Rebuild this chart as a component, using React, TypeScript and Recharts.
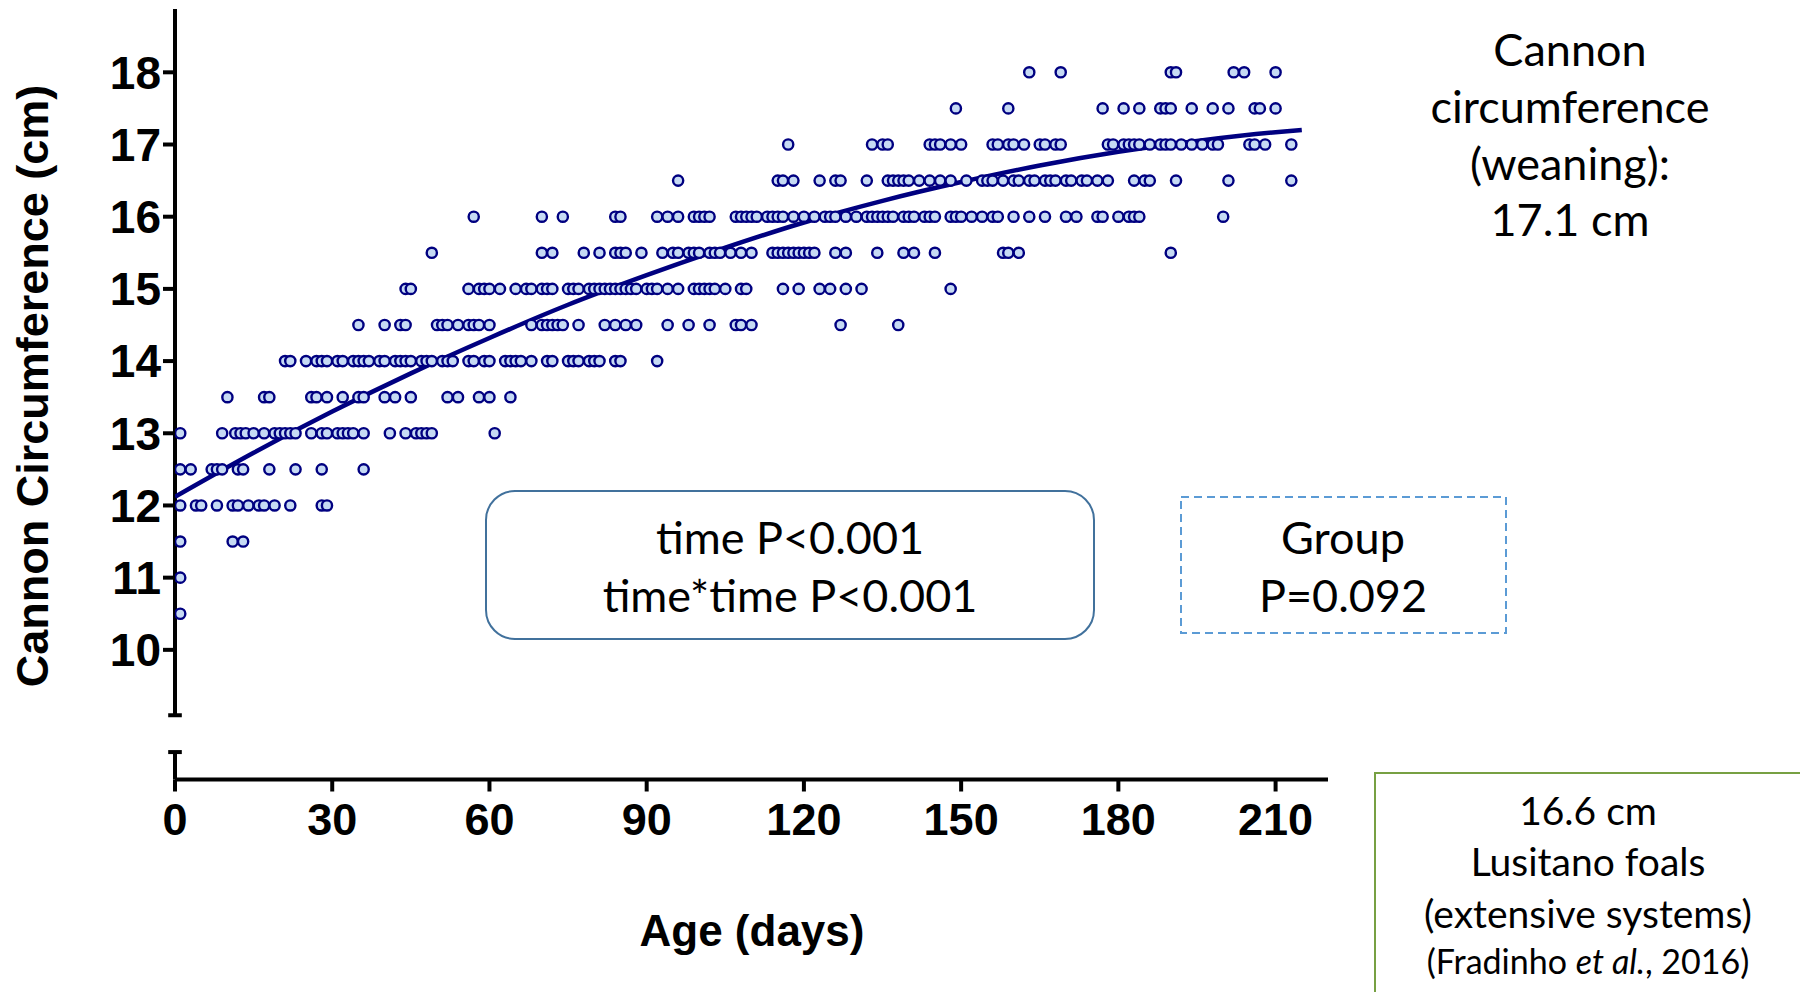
import { ComposedChart, Line, ReferenceLine, Scatter, XAxis, YAxis } from "recharts";

// cannon circumference rows (cm) and the ages (days) of the foals measured at that value
const cm18 = [163, 169, 190, 191, 202, 204, 210];
const cm17_5 = [149, 159, 177, 181, 184, 188, 189, 190, 194, 198, 201, 206, 207, 210];
const cm17 = [117, 133, 135, 136, 144, 145, 146, 148, 150, 156, 157, 159, 160, 162, 165, 166, 168, 169, 178, 179, 181, 182, 183, 184, 186, 188, 189, 190, 192, 194, 196, 198, 199, 205, 206, 208, 213];
const cm16_5 = [96, 115, 116, 118, 123, 126, 127, 132, 136, 137, 138, 139, 140, 142, 144, 146, 148, 151, 154, 155, 156, 158, 160, 161, 163, 164, 166, 167, 168, 170, 171, 173, 174, 176, 178, 183, 185, 186, 191, 201, 213];
const cm16 = [57, 70, 74, 84, 85, 92, 94, 96, 99, 100, 101, 102, 107, 108, 109, 110, 111, 113, 114, 115, 116, 118, 120, 122, 124, 125, 126, 128, 130, 132, 133, 134, 135, 136, 137, 139, 140, 141, 143, 144, 145, 148, 149, 150, 152, 154, 156, 157, 160, 163, 166, 170, 172, 176, 177, 180, 182, 183, 184, 200];
const cm15_5 = [49, 70, 72, 78, 81, 84, 85, 86, 89, 93, 95, 96, 98, 99, 100, 102, 103, 104, 106, 108, 110, 114, 115, 116, 117, 118, 119, 120, 121, 122, 126, 128, 134, 139, 141, 145, 158, 159, 161, 190];
const cm15 = [44, 45, 56, 58, 59, 60, 62, 65, 67, 68, 70, 71, 72, 75, 76, 77, 79, 80, 81, 82, 83, 84, 85, 86, 87, 88, 90, 91, 92, 94, 96, 99, 100, 101, 102, 103, 105, 108, 109, 116, 119, 123, 125, 128, 131, 148];
const cm14_5 = [35, 40, 43, 44, 50, 51, 52, 54, 56, 57, 58, 60, 68, 70, 71, 72, 73, 74, 77, 82, 84, 86, 88, 94, 98, 102, 107, 108, 110, 127, 138];
const cm14 = [21, 22, 25, 27, 28, 29, 31, 32, 34, 35, 36, 37, 39, 40, 42, 43, 44, 45, 47, 48, 49, 51, 52, 53, 56, 57, 59, 60, 63, 64, 65, 66, 68, 71, 72, 75, 76, 77, 79, 80, 81, 84, 85, 92];
const cm13_5 = [10, 17, 18, 26, 27, 29, 32, 35, 36, 40, 42, 45, 52, 54, 58, 60, 64];
const cm13 = [1, 9, 11.5, 12.5, 13.5, 15, 17, 19, 20, 21, 22, 23, 26, 28, 29, 31, 32, 33, 34, 36, 41, 44, 46, 47, 48, 49, 61];
const cm12_5 = [1, 3, 7, 8, 9, 12, 13, 18, 23, 28, 36];
const cm12 = [1, 4, 5, 8, 11, 12, 14, 16, 17, 19, 22, 28, 29];
const cm11_5 = [1, 11, 13];
const cm11 = [1];
const cm10_5 = [1];

const rowValues = [18, 17.5, 17, 16.5, 16, 15.5, 15, 14.5, 14, 13.5, 13, 12.5, 12, 11.5, 11, 10.5];
const rowAges = [cm18, cm17_5, cm17, cm16_5, cm16, cm15_5, cm15, cm14_5, cm14, cm13_5, cm13, cm12_5, cm12, cm11_5, cm11, cm10_5];

// quadratic trend (time, time*time)
const fitAges = [0, 15, 30, 45, 60, 75, 90, 105, 120, 135, 150, 165, 180, 195, 210, 215];
const fitCm = [12.12, 12.73, 13.3, 13.83, 14.32, 14.78, 15.19, 15.57, 15.92, 16.22, 16.48, 16.71, 16.9, 17.05, 17.17, 17.2];

const xTicks = [0, 30, 60, 90, 120, 150, 180, 210];
const yTicks = [10, 11, 12, 13, 14, 15, 16, 17, 18];

const points = rowValues.flatMap((v, i) => rowAges[i].map((age) => ({ x: age, y: v })));
const fitData = fitAges.map((age, i) => ({ x: age, y: fitCm[i] }));

const NAVY = "#000080";
const AXIS_FONT = "'Liberation Sans', Arial, sans-serif";
const NOTE_FONT = "Lato, 'Open Sans', sans-serif";

const Dot = (props: any) => {
  const { cx, cy } = props;
  if (cx == null || cy == null) return null;
  return <circle cx={cx} cy={cy} r={5.1} fill="#C6DAF4" stroke={NAVY} strokeWidth={2.4} />;
};

const axisStroke = { stroke: "#000", strokeWidth: 4 };

export default function App() {
  return (
    <div
      style={{
        background: "#fff",
        height: 992,
        left: 0,
        overflow: "hidden",
        position: "absolute",
        top: 0,
        width: 1800
      }}
    >
      <ComposedChart height={992} margin={{ bottom: 92.5, left: 0, right: 472, top: 9 }} width={1800}>
        <XAxis
          allowDataOverflow
          axisLine={axisStroke}
          dataKey="x"
          domain={[0, 220]}
          height={120}
          tick={{ fill: "#000", fontFamily: AXIS_FONT, fontSize: 45, fontWeight: "bold" }}
          tickLine={axisStroke}
          tickMargin={12}
          tickSize={12}
          ticks={xTicks}
          type="number"
        />
        <YAxis
          allowDataOverflow
          axisLine={false}
          dataKey="y"
          domain={[8.204, 18.877]}
          tick={{ fill: "#000", fontFamily: AXIS_FONT, fontSize: 46, fontWeight: "bold" }}
          tickLine={axisStroke}
          tickMargin={2}
          tickSize={12}
          ticks={yTicks}
          type="number"
          width={175}
        />
        {/* broken y axis */}
        <ReferenceLine ifOverflow="visible" segment={[{ x: 0, y: 9.094 }, { x: 0, y: 18.877 }]} stroke="#000" strokeWidth={4} />
        <ReferenceLine ifOverflow="visible" segment={[{ x: -1.3, y: 9.094 }, { x: 1.3, y: 9.094 }]} stroke="#000" strokeWidth={4} />
        <ReferenceLine ifOverflow="visible" segment={[{ x: 0, y: 8.204 }, { x: 0, y: 8.584 }]} stroke="#000" strokeWidth={4} />
        <ReferenceLine ifOverflow="visible" segment={[{ x: -1.3, y: 8.584 }, { x: 1.3, y: 8.584 }]} stroke="#000" strokeWidth={4} />
        <Scatter data={points} fill="#C6DAF4" isAnimationActive={false} shape={<Dot />} />
        <Line
          data={fitData}
          dataKey="y"
          dot={false}
          isAnimationActive={false}
          stroke={NAVY}
          strokeWidth={4.5}
          type="monotone"
        />
      </ComposedChart>

      <svg height={992} style={{ left: 0, pointerEvents: "none", position: "absolute", top: 0 }} width={1800}>
        <text
          dominantBaseline="central"
          fill="#000"
          fontFamily={AXIS_FONT}
          fontSize={45}
          fontWeight="bold"
          textAnchor="middle"
          transform="rotate(-90 32 386)"
          x={32}
          y={386}
        >
          Cannon Circumference (cm)
        </text>
        <text
          dominantBaseline="central"
          fill="#000"
          fontFamily={AXIS_FONT}
          fontSize={44}
          fontWeight="bold"
          textAnchor="middle"
          x={752}
          y={930}
        >
          Age (days)
        </text>

        <g fill="#000" fontFamily={NOTE_FONT} textAnchor="middle">
          <rect fill="none" height={148} rx={29} stroke="#41719C" strokeWidth={2} width={608} x={486} y={491} />
          <text dominantBaseline="central" fontSize={45} x={790} y={537}>time P&lt;0.001</text>
          <text dominantBaseline="central" fontSize={45} x={790} y={595}>time*time P&lt;0.001</text>

          <rect fill="none" height={136} stroke="#5B9BD5" strokeDasharray="8 5" strokeWidth={2} width={325} x={1181} y={497} />
          <text dominantBaseline="central" fontSize={45} x={1343} y={537}>Group</text>
          <text dominantBaseline="central" fontSize={45} x={1343} y={595}>P=0.092</text>

          <text dominantBaseline="central" fontSize={45} x={1570} y={49}>Cannon</text>
          <text dominantBaseline="central" fontSize={45} x={1570} y={106}>circumference</text>
          <text dominantBaseline="central" fontSize={45} x={1570} y={163}>(weaning):</text>
          <text dominantBaseline="central" fontSize={45} x={1570} y={219}>17.1 cm</text>

          <rect fill="none" height={300} stroke="#77A043" strokeWidth={2} width={500} x={1375} y={773} />
          <text dominantBaseline="central" fontSize={39} x={1588} y={810}>16.6 cm</text>
          <text dominantBaseline="central" fontSize={39} x={1588} y={861}>Lusitano foals</text>
          <text dominantBaseline="central" fontSize={39} x={1588} y={913}>(extensive systems)</text>
          <text dominantBaseline="central" fontSize={34} x={1588} y={960}>
            (Fradinho <tspan fontStyle="italic">et al.</tspan>, 2016)
          </text>
        </g>
      </svg>
    </div>
  );
}
